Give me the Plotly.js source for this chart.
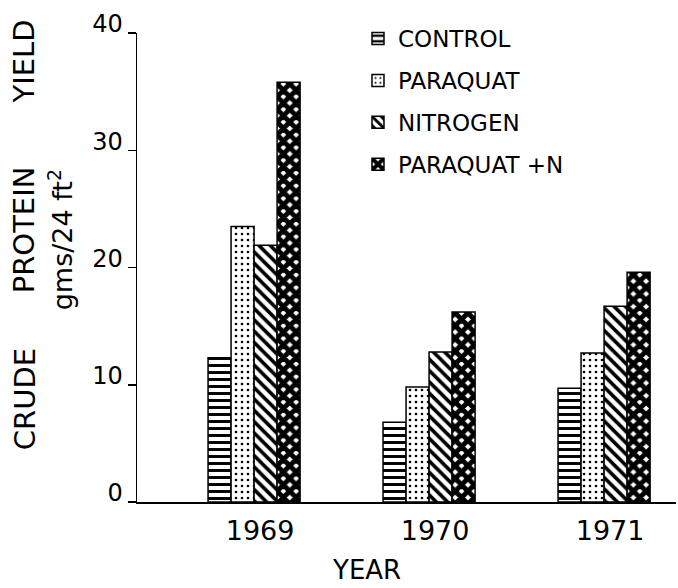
<!DOCTYPE html>
<html><head><meta charset="utf-8">
<script src="https://cdn.plot.ly/plotly-3.0.1.min.js"></script>
<style>html,body{margin:0;padding:0;background:#fff;} #chart{width:678px;height:588px;}</style>
</head><body><div id="chart"></div>
<script>
const years = ['1969', '1970', '1971'];
const seriesNames = ['CONTROL', 'PARAQUAT', 'NITROGEN', 'PARAQUAT +N'];
const control = [12.3, 6.8, 9.7];
const paraquat = [23.5, 9.8, 12.7];
const nitrogen = [21.9, 12.8, 16.7];
const paraquatN = [35.8, 16.2, 19.6];
const yTicks = [0, 10, 20, 30, 40];
const yTickLabels = ['0', '10', '20', '30', '40'];

const FONT = 'DejaVu Sans';
const values = [control, paraquat, nitrogen, paraquatN];
const patterns = [
  {shape: '-', fgcolor: '#000', bgcolor: '#fff', size: 7, solidity: 0.42},
  {shape: '.', fgcolor: '#000', bgcolor: '#fff', size: 6, solidity: 0.15},
  {shape: '\\', fgcolor: '#000', bgcolor: '#fff', size: 8, solidity: 0.45},
  {shape: 'x', fgcolor: '#000', bgcolor: '#fff', size: 9, solidity: 0.8}
];

const traces = seriesNames.map((n, i) => ({
  type: 'bar',
  name: n,
  legendgroup: 'g' + i,
  x: years,
  y: values[i],
  marker: {color: '#fff', pattern: patterns[i], line: {color: '#000', width: 1.5}},
  hoverinfo: 'skip'
}));

const layout = {
  width: 678, height: 588,
  paper_bgcolor: '#fff', plot_bgcolor: '#fff',
  margin: {l: 137, r: 2, t: 33, b: 86},
  barmode: 'group', bargap: 0.474, bargroupgap: 0,
  font: {family: FONT, color: '#000'},
  showlegend: true,
  legend: {x: 0.41, xanchor: 'left', y: 1.034, yanchor: 'top', bgcolor: 'rgba(0,0,0,0)',
           font: {family: FONT, size: 23, color: '#000'}, tracegroupgap: 9},
  xaxis: {
    type: 'category', range: [-0.669, 2.411],
    showline: true, linecolor: '#000', linewidth: 1.5,
    ticks: '', showgrid: false, zeroline: false,
    tickfont: {family: FONT, size: 27, color: '#000'},
    ticklabelshift: 6, ticklabelstandoff: 4
  },
  yaxis: {
    range: [0, 40], tickvals: yTicks, ticktext: yTickLabels,
    showline: true, linecolor: '#000', linewidth: 1.5,
    ticks: 'outside', ticklen: 8, tickwidth: 1.5, tickcolor: '#000',
    showgrid: false, zeroline: false,
    tickfont: {family: FONT, size: 24, color: '#000'},
    ticklabelshift: -9
  },
  annotations: [
    {text: 'CRUDE', xref: 'paper', yref: 'paper', x: -0.209, y: 0.22, showarrow: false, textangle: -90,
     xanchor: 'center', yanchor: 'middle', font: {family: FONT, size: 29, color: '#000'}},
    {text: 'PROTEIN', xref: 'paper', yref: 'paper', x: -0.209, y: 0.58, showarrow: false, textangle: -90,
     xanchor: 'center', yanchor: 'middle', font: {family: FONT, size: 29, color: '#000'}},
    {text: 'YIELD', xref: 'paper', yref: 'paper', x: -0.209, y: 0.94, showarrow: false, textangle: -90,
     xanchor: 'center', yanchor: 'middle', font: {family: FONT, size: 29, color: '#000'}},
    {text: 'gms/24 ft<sup>2</sup>', xref: 'paper', yref: 'paper', x: -0.143, y: 0.56, showarrow: false, textangle: -90,
     xanchor: 'center', yanchor: 'middle', font: {family: FONT, size: 27, color: '#000'}},
    {text: 'YEAR', xref: 'paper', yref: 'paper', x: 0.425, y: -0.146, showarrow: false,
     xanchor: 'center', yanchor: 'middle', font: {family: FONT, size: 26, color: '#000'}}
  ]
};

Plotly.newPlot('chart', traces, layout, {displayModeBar: false, staticPlot: true});
</script>
</body></html>
